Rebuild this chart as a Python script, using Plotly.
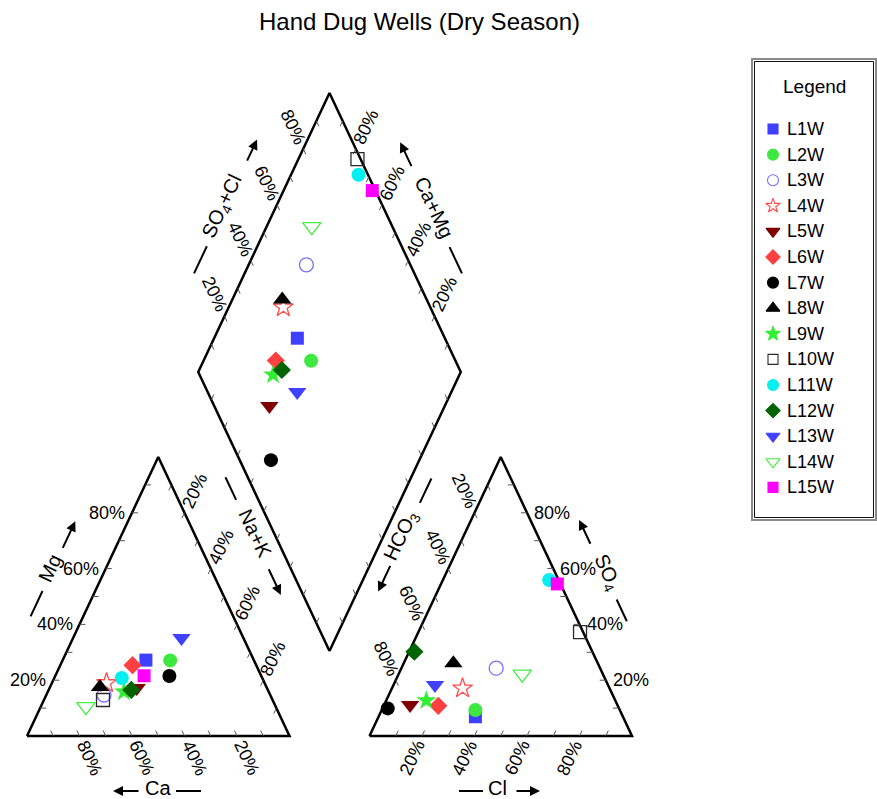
import math
import plotly.graph_objects as go

# ---- sample chemistry (meq % of cations / anions) ----
samples = ["L1W", "L2W", "L3W", "L4W", "L5W", "L6W", "L7W", "L8W",
           "L9W", "L10W", "L11W", "L12W", "L13W", "L14W", "L15W"]
ca   = [41.1, 31.9, 63.3, 60.2, 49.6, 47.1, 35.0, 63.4, 55.1, 64.6, 53.5, 52.0, 23.6, 72.3, 44.6]
mg   = [27.2, 27.1, 14.7, 19.0, 17.2, 25.4, 21.5, 17.6, 15.9, 12.9, 20.8, 16.5, 35.1, 10.5, 21.6]
na_k = [31.7, 41.0, 22.0, 20.8, 33.2, 27.5, 43.5, 19.0, 29.0, 22.5, 25.7, 31.5, 41.3, 17.2, 33.8]
hco3 = [56.2, 55.0, 39.6, 56.0, 79.0, 68.4, 88.1, 55.0, 72.0, 1.2, 3.6, 67.8, 65.9, 30.7, 1.2]
cl   = [36.9, 35.7, 36.1, 26.9, 9.9, 20.8, 2.0, 18.9, 15.3, 61.6, 40.5, 2.0, 15.8, 47.1, 44.3]
so4  = [6.9, 9.3, 24.3, 17.1, 11.1, 10.8, 9.9, 26.1, 12.7, 37.2, 55.9, 30.2, 18.3, 22.2, 54.5]

tick_values = [20, 40, 60, 80]
title_text = "Hand Dug Wells (Dry Season)"

# ---- marker styles per sample ----
styles = {
    "L1W":  dict(symbol="square",             color="#3f3fff"),
    "L2W":  dict(symbol="circle",             color="#3fe83f"),
    "L3W":  dict(symbol="circle-open",        color="#7272ff"),
    "L4W":  dict(symbol="star-open",          color="#ff4c4c"),
    "L5W":  dict(symbol="triangle-down",      color="#7f0000"),
    "L6W":  dict(symbol="diamond",            color="#ff4040"),
    "L7W":  dict(symbol="circle",             color="#000000"),
    "L8W":  dict(symbol="triangle-up",        color="#000000"),
    "L9W":  dict(symbol="star",               color="#33ee33"),
    "L10W": dict(symbol="square-open",        color="#2a2a2a"),
    "L11W": dict(symbol="circle",             color="#00f0f0"),
    "L12W": dict(symbol="diamond",            color="#006400"),
    "L13W": dict(symbol="triangle-down",      color="#4040ff"),
    "L14W": dict(symbol="triangle-down-open", color="#44ee44"),
    "L15W": dict(symbol="square",             color="#ff00ff"),
}
# marker size by symbol family (plot, legend)
SIZE = {"square": (13, 10), "circle": (14, 11), "star": (15, 11),
        "diamond": (14, 11), "triangle": (16, 12)}


def sizes(symbol):
    return SIZE[symbol.split("-")[0]]


FONT = "Liberation Sans, Arial, sans-serif"

# ---- Piper geometry (screen pixels) ----
FIG_W, FIG_H = 877, 799
SIDE = 262.5          # triangle base width
TRI_H = 279.0         # triangle height
X0, Y0 = 27.0, 736.0  # lower-left corner of the cation triangle
GAP = 80.0            # gap between the two triangles
G = GAP / SIDE


def px(u, v):
    return X0 + SIDE * u, Y0 - TRI_H * v


def cation_uv(c, m, n):
    t = c + m + n
    m, n = m / t, n / t
    return n + m / 2.0, m


def anion_uv(h, c, s):
    t = h + c + s
    c, s = c / t, s / t
    return 1 + G + c + s / 2.0, s


def diamond_uv(n, h):
    # n: Na+K fraction, h: HCO3 fraction
    return (n + 2 + G - h) / 2.0, 2 + G - h - n


def unit(dx, dy):
    L = math.hypot(dx, dy)
    return dx / L, dy / L


D60 = unit(SIDE * 0.5, -TRI_H)     # screen direction up-right
D120 = unit(-SIDE * 0.5, -TRI_H)   # screen direction up-left
HOR = (1.0, 0.0)
ANG = math.degrees(math.atan2(TRI_H, SIDE * 0.5))   # ~64.8 deg

fig = go.Figure()

# ---- outlines ----
outlines = [
    [cation_uv(1, 0, 0), cation_uv(0, 0, 1), cation_uv(0, 1, 0), cation_uv(1, 0, 0)],
    [anion_uv(1, 0, 0), anion_uv(0, 1, 0), anion_uv(0, 0, 1), anion_uv(1, 0, 0)],
    [diamond_uv(1, 1), diamond_uv(0, 1), diamond_uv(0, 0), diamond_uv(1, 0), diamond_uv(1, 1)],
]
ox, oy = [], []
for poly in outlines:
    for u, v in poly:
        x, y = px(u, v)
        ox.append(x)
        oy.append(y)
    ox.append(None)
    oy.append(None)
fig.add_trace(go.Scatter(x=ox, y=oy, mode="lines", line=dict(color="black", width=2.5),
                         hoverinfo="skip", showlegend=False))

# ---- ticks every 10 % ----
TL = 6.0
tick_specs = []   # (uv function of fraction, direction)
tick_specs.append((lambda f: cation_uv(f, 0, 1 - f), D120))               # Ca, base
tick_specs.append((lambda f: cation_uv(1 - f, f, 0), HOR))                 # Mg, left
tick_specs.append((lambda f: cation_uv(0, 1 - f, f), (-D60[0], -D60[1])))  # Na+K, right
tick_specs.append((lambda f: anion_uv(1 - f, f, 0), D60))                  # Cl, base
tick_specs.append((lambda f: anion_uv(0, 1 - f, f), (-1.0, 0.0)))          # SO4, right
tick_specs.append((lambda f: anion_uv(f, 0, 1 - f), (-D120[0], -D120[1]))) # HCO3, left
tick_specs.append((lambda f: diamond_uv(0, 1 - f), (-D120[0], -D120[1])))  # SO4+Cl
tick_specs.append((lambda f: diamond_uv(1 - f, 0), (-D60[0], -D60[1])))    # Ca+Mg
tick_specs.append((lambda f: diamond_uv(f, 1), D60))                       # lower-left
tick_specs.append((lambda f: diamond_uv(1, f), D120))                      # lower-right
tx, ty = [], []
for fn, (dx, dy) in tick_specs:
    for k in range(1, 10):
        x, y = px(*fn(k / 10.0))
        tx += [x, x + dx * TL, None]
        ty += [y, y + dy * TL, None]
fig.add_trace(go.Scatter(x=tx, y=ty, mode="lines", line=dict(color="#555555", width=1),
                         hoverinfo="skip", showlegend=False))

annotations = []
LBL = dict(family=FONT, size=18, color="black")
DL = 24.0


def rot_label(x, y, d, text, angle):
    annotations.append(dict(x=x + d[0] * DL, y=y + d[1] * DL, text=text, textangle=angle,
                            showarrow=False, xanchor="center", yanchor="middle", font=LBL))


for val in tick_values:
    f = val / 100.0
    x, y = px(*cation_uv(f, 0, 1 - f))
    rot_label(x, y, (-D120[0], -D120[1]), f"{val}%", ANG)
    x, y = px(*cation_uv(1 - f, f, 0))
    annotations.append(dict(x=x - 5, y=y, text=f"{val}%", showarrow=False,
                            xanchor="right", yanchor="middle", font=LBL))
    x, y = px(*cation_uv(0, 1 - f, f))
    rot_label(x, y, D60, f"{val}%", -ANG)
    x, y = px(*anion_uv(1 - f, f, 0))
    rot_label(x, y, (-D60[0], -D60[1]), f"{val}%", -ANG)
    x, y = px(*anion_uv(0, 1 - f, f))
    annotations.append(dict(x=x + 5, y=y, text=f"{val}%", showarrow=False,
                            xanchor="left", yanchor="middle", font=LBL))
    x, y = px(*anion_uv(f, 0, 1 - f))
    rot_label(x, y, D120, f"{val}%", ANG)
    x, y = px(*diamond_uv(0, 1 - f))
    rot_label(x, y, D120, f"{val}%", ANG)
    x, y = px(*diamond_uv(1 - f, 0))
    rot_label(x, y, D60, f"{val}%", -ANG)

# ---- axis titles with dash and arrow ----
shapes = []
TTL = dict(family=FONT, size=20, color="black")


def axis_title(cx, cy, angle, text, dash, arrow, drop=3.0):
    a = math.radians(angle)
    ux, uy = math.cos(a), math.sin(a)
    nx, ny = -math.sin(a), math.cos(a)
    annotations.append(dict(x=cx, y=cy, text=text, textangle=angle, showarrow=False,
                            xanchor="center", yanchor="middle", font=TTL))
    bx, by = cx + nx * drop, cy + ny * drop
    shapes.append(dict(type="line", xref="x", yref="y",
                       x0=bx + ux * dash[0], y0=by + uy * dash[0],
                       x1=bx + ux * dash[1], y1=by + uy * dash[1],
                       line=dict(color="black", width=2)))
    annotations.append(dict(x=bx + ux * arrow[1], y=by + uy * arrow[1],
                            ax=bx + ux * arrow[0], ay=by + uy * arrow[0],
                            xref="x", yref="y", axref="x", ayref="y", text="",
                            showarrow=True, arrowhead=2, arrowsize=1, arrowwidth=2,
                            arrowcolor="black", standoff=0, startstandoff=0))


axis_title(50, 568, -ANG, "Mg", (-52, -24), (22, 53))
axis_title(158, 788, 0, "Ca", (18, 43), (-18, -45))
axis_title(255, 533, ANG, "Na+K", (-63, -38), (37, 67))
axis_title(401, 536, -ANG, "HCO<sub>3</sub>", (38, 65), (-30, -60))
axis_title(497, 788, 0, "Cl", (-38, -14), (18, 43))
axis_title(607, 572, ANG, "SO<sub>4</sub>", (29, 53), (-31, -59))
axis_title(222, 207, -ANG, "SO<sub>4</sub>+Cl", (-72, -42), (51, 76))
axis_title(434, 207, ANG, "Ca+Mg", (43, 72), (-45, -73))

# ---- samples: cation, anion and diamond points ----
for i, name in enumerate(samples):
    st = styles[name]
    pts = [cation_uv(ca[i], mg[i], na_k[i]), anion_uv(hco3[i], cl[i], so4[i])]
    n_frac = na_k[i] / (ca[i] + mg[i] + na_k[i])
    h_frac = hco3[i] / (hco3[i] + cl[i] + so4[i])
    pts.append(diamond_uv(n_frac, h_frac))
    xs, ys = zip(*[px(u, v) for u, v in pts])
    is_open = st["symbol"].endswith("open")
    fig.add_trace(go.Scatter(
        x=list(xs), y=list(ys), mode="markers", name=name, showlegend=False, cliponaxis=False,
        marker=dict(symbol=st["symbol"], size=sizes(st["symbol"])[0], color=st["color"],
                    opacity=1, line=dict(width=1.3 if is_open else 0, color=st["color"])),
    ))

# ---- legend panel ----
LEG_X0, LEG_Y0, LEG_X1, LEG_Y1 = 752, 59, 876, 520
shapes.append(dict(type="rect", xref="x", yref="y", x0=LEG_X0, y0=LEG_Y0, x1=LEG_X1, y1=LEG_Y1,
                   line=dict(color="#8a8a8a", width=2)))
shapes.append(dict(type="rect", xref="x", yref="y", x0=LEG_X0 + 2.5, y0=LEG_Y0 + 2.5,
                   x1=LEG_X1 - 2.5, y1=LEG_Y1 - 2.5, line=dict(color="#111111", width=1)))
annotations.append(dict(x=(LEG_X0 + LEG_X1) / 2, y=86, text="Legend", showarrow=False,
                        xanchor="center", yanchor="middle",
                        font=dict(family=FONT, size=19, color="black")))
row_y = [129 + 25.6 * i for i in range(len(samples))]
fig.add_trace(go.Scatter(
    x=[773] * len(samples), y=row_y, mode="markers", showlegend=False, hoverinfo="skip",
    marker=dict(symbol=[styles[s]["symbol"] for s in samples],
                size=[sizes(styles[s]["symbol"])[1] for s in samples],
                color=[styles[s]["color"] for s in samples], opacity=1,
                line=dict(width=1.1, color=[styles[s]["color"] for s in samples])),
))
for s, y in zip(samples, row_y):
    annotations.append(dict(x=785, y=y, text=s, showarrow=False, xanchor="left", yanchor="middle",
                            font=dict(family=FONT, size=18, color="black")))

annotations.append(dict(x=419, y=21, text=title_text, showarrow=False, xanchor="center",
                        yanchor="middle", font=dict(family=FONT, size=24, color="black")))

fig.update_layout(
    width=FIG_W, height=FIG_H, margin=dict(l=0, r=0, t=0, b=0),
    paper_bgcolor="white", plot_bgcolor="white",
    xaxis=dict(range=[0, FIG_W], visible=False, fixedrange=True),
    yaxis=dict(range=[FIG_H, 0], visible=False, fixedrange=True),
    annotations=annotations, shapes=shapes, showlegend=False,
)
fig.write_html("out.html")
